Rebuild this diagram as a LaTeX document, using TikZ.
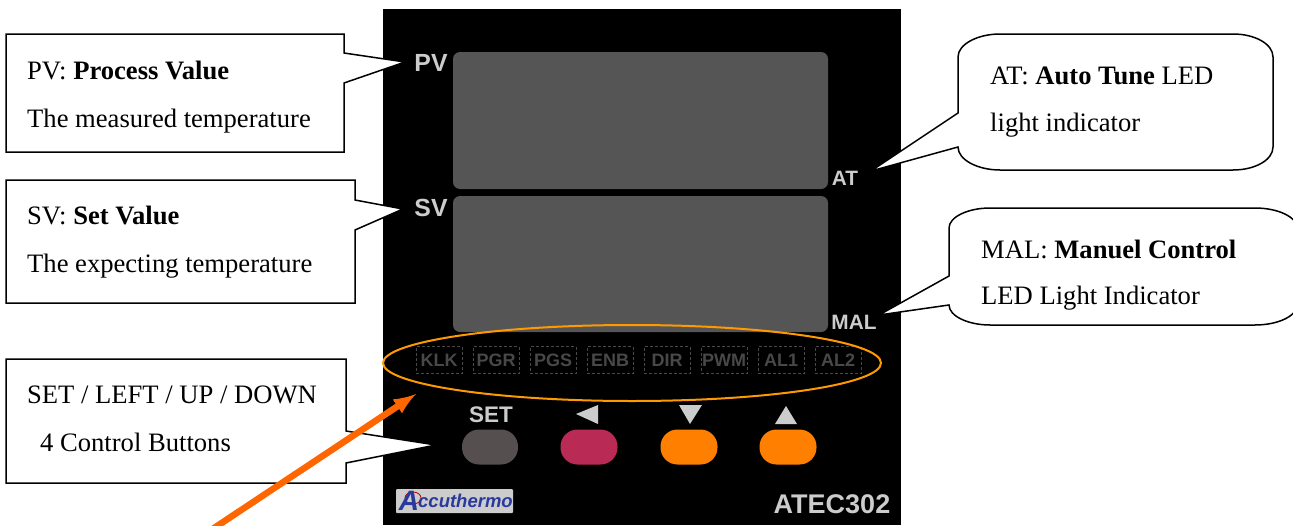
\documentclass[tikz,border=0pt]{standalone}
\usepackage{fontspec}
\usetikzlibrary{shapes.geometric}
\setmainfont{Liberation Serif}
\newfontfamily\panelfont{Liberation Sans}

\definecolor{dispgray}{HTML}{555555}
\definecolor{labelgray}{HTML}{CCCCCC}
\definecolor{ledgray}{HTML}{484848}
\definecolor{setgray}{HTML}{554F4F}
\definecolor{leftred}{HTML}{B92A55}
\definecolor{btnorange}{HTML}{FF8000}
\definecolor{ringorange}{HTML}{FF9900}
\definecolor{arroworange}{HTML}{FF6600}
\definecolor{logoblue}{HTML}{2A3A9C}

\begin{document}
\begin{tikzpicture}[x=1pt,y=-1pt,>=latex,
    callout/.style={draw=black,fill=white,line width=1.5pt},
    note/.style={anchor=base west,inner sep=0pt,font=\fontsize{26.6}{30}\selectfont},
    tag/.style={text=labelgray,inner sep=0pt,font=\panelfont\bfseries\fontsize{24.8}{28}\selectfont},
    smalltag/.style={text=labelgray,inner sep=0pt,font=\panelfont\bfseries\fontsize{20.8}{24}\selectfont},
    led/.style={draw=ledgray,densely dashed,line width=0.4pt,minimum width=46pt,minimum height=27pt,inner sep=0pt,text=ledgray,font=\panelfont\bfseries\fontsize{18}{20}\selectfont},
    btn/.style={rounded corners=17pt,minimum width=57pt,minimum height=35pt,inner sep=0pt},
    keymark/.style={fill=labelgray},
    ]
    \useasboundingbox (0,0) rectangle (1293,525);
    \clip (0,0) rectangle (1293,525);
    \fill[black] (383,9) rectangle (901,525);
    % displays
    \fill[dispgray,rounded corners=7pt] (453,52) rectangle (828,189);
    \fill[dispgray,rounded corners=7pt] (453,196) rectangle (828,332);
    \node[tag] (pv) at (431,63) {PV};
    \node[tag] (sv) at (431,208) {SV};
    \node[smalltag] (at) at (845,178) {AT};
    \node[smalltag] (mal) at (854,322) {MAL};
    % led row
    \node[led] (klk) at (439,360) {KLK};
    \node[led] (pgr) at (496,360) {PGR};
    \node[led] (pgs) at (553,360) {PGS};
    \node[led] (enb) at (610,360) {ENB};
    \node[led] (dir) at (667,360) {DIR};
    \node[led] (pwm) at (724,360) {PWM};
    \node[led] (al1) at (781,360) {AL1};
    \node[led] (al2) at (838,360) {AL2};
    % buttons
    \node[btn,fill=setgray,minimum width=56pt] (setbtn) at (490,447) {};
    \node[btn,fill=leftred] (leftbtn) at (589,447) {};
    \node[btn,fill=btnorange] (downbtn) at (689,447) {};
    \node[btn,fill=btnorange] (upbtn) at (788,447) {};
    \node[tag,font=\panelfont\bfseries\fontsize{22.5}{26}\selectfont] (setlabel) at (491,415) {SET};
    \fill[keymark] (598,405) -- (598,424) -- (576,414) -- cycle;
    \fill[keymark] (679,405) -- (702,405) -- (690,424) -- cycle;
    \fill[keymark] (775,424) -- (797,424) -- (786,406) -- cycle;
    % logo
    \fill[labelgray,rounded corners=1pt] (396,489) rectangle (513,513);
    \draw[red!75!black,line width=0.8pt] (413,498) ellipse[x radius=8,y radius=6];
    \node[inner sep=0pt,text=logoblue,font=\panelfont\bfseries\itshape\fontsize{28}{30}\selectfont] (logoa) at (409,501) {A};
    \node[anchor=base west,inner sep=0pt,text=logoblue,font=\panelfont\bfseries\itshape\fontsize{18.5}{20}\selectfont] (logotext) at (418,507) {ccuthermo};
    \node[text=labelgray,inner sep=0pt,font=\panelfont\bfseries\fontsize{27}{30}\selectfont] (model) at (832,504) {ATEC302};
    % callouts
    \draw[callout] (6,34) -- (344,34) -- (344,53) -- (405,62) -- (344,83) -- (344,152) -- (6,152) -- cycle;
    \draw[callout] (6,180) -- (355,180) -- (355,200) -- (403,209) -- (355,230) -- (355,303) -- (6,303) -- cycle;
    \draw[callout] (6,359) -- (346,359) -- (346,431) -- (436,445) -- (346,463) -- (346,483) -- (6,483) -- cycle;
    \draw[callout] (1000,34) -- (1233,34) .. controls (1255,34) and (1273,44) .. (1273,57)
        -- (1273,147) .. controls (1273,160) and (1255,170) .. (1233,170)
        -- (1000,170) .. controls (978,170) and (958,160) .. (958,147)
        -- (871,171) -- (958,113) -- (958,57) .. controls (958,44) and (978,34) .. (1000,34) -- cycle;
    \draw[callout] (990,208) -- (1255,208) .. controls (1278,208) and (1297,217) .. (1297,228)
        -- (1297,305) .. controls (1297,316) and (1278,325) .. (1255,325)
        -- (990,325) .. controls (968,325) and (949,316) .. (949,305)
        -- (879,315) -- (949,276) -- (949,228) .. controls (949,217) and (968,208) .. (990,208) -- cycle;
    % callout texts
    \node[note] (pvtitle) at (27,79) {PV: \textbf{Process Value}};
    \node[note] (pvtext) at (27,127) {The measured temperature};
    \node[note] (svtitle) at (27,224) {SV: \textbf{Set Value}};
    \node[note] (svtext) at (27,272) {The expecting temperature};
    \node[note] (btntitle) at (27,403) {SET / LEFT / UP / DOWN};
    \node[note] (btntext) at (40,451) {4 Control Buttons};
    \node[note] (attitle) at (990,84) {AT: \textbf{Auto Tune} LED};
    \node[note] (attext) at (990,131) {light indicator};
    \node[note] (maltitle) at (981,258) {MAL: \textbf{Manuel Control}};
    \node[note] (maltext) at (981,304) {LED Light Indicator};
    % led ring and arrow
    \node[draw=ringorange,line width=2pt,ellipse,minimum width=498pt,minimum height=76pt,inner sep=0pt] (ring) at (632,363) {};
    \coordinate (tail) at (190,544);
    \coordinate (head) at (416,394);
    \draw[->,arroworange,line width=6.5pt] (tail) -- (head);
\end{tikzpicture}
\end{document}
